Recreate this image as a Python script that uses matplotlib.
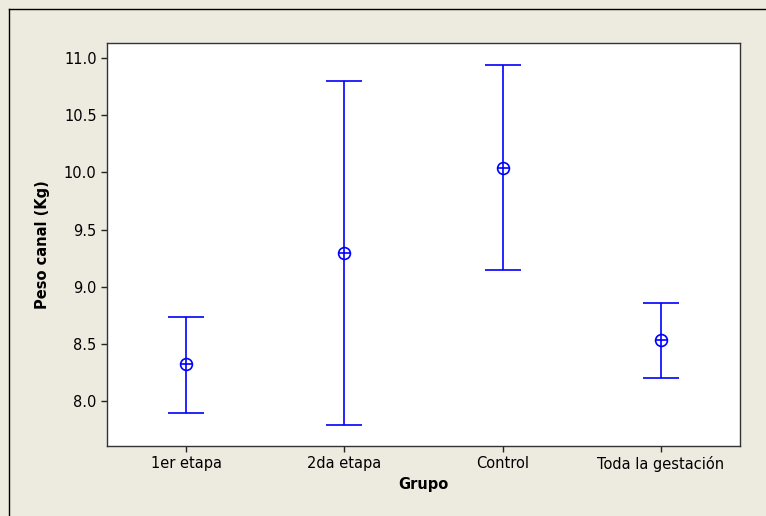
import matplotlib
matplotlib.use("Agg")
import matplotlib.pyplot as plt
from matplotlib.lines import Line2D

grupos = ["1er etapa", "2da etapa", "Control", "Toda la gestación"]
medias = [8.33, 9.30, 10.04, 8.54]
superior = [8.74, 10.80, 10.94, 8.86]
inferior = [7.90, 7.79, 9.15, 8.20]

fondo = "#EDEAE0"
azul = "#0000FF"

plt.rcParams["font.family"] = ["DejaVu Sans"]

fig = plt.figure(figsize=(7.66, 5.16), dpi=100, facecolor=fondo)
ax = fig.add_axes([107 / 766, 1 - 446 / 516, (740 - 107) / 766, (446 - 43) / 516])
ax.set_facecolor("white")

x = list(range(1, len(grupos) + 1))
err_bajo = [m - l for m, l in zip(medias, inferior)]
err_alto = [u - m for m, u in zip(medias, superior)]

ax.errorbar(x, medias, yerr=[err_bajo, err_alto], fmt="none", ecolor=azul,
            elinewidth=1.2, capsize=13, capthick=1.2)
ax.plot(x, medias, linestyle="none", marker="o", markersize=8.5,
        markerfacecolor="white", markeredgecolor=azul, markeredgewidth=1.2)
ax.plot(x, medias, linestyle="none", marker="+", markersize=8.5,
        markeredgecolor=azul, markeredgewidth=1.2)

ax.set_xlim(0.5, 4.5)
ax.set_ylim(7.61, 11.13)
ax.set_xticks(x)
ax.set_xticklabels(grupos)
ax.set_yticks([8.0, 8.5, 9.0, 9.5, 10.0, 10.5, 11.0])
ax.set_yticklabels(["8.0", "8.5", "9.0", "9.5", "10.0", "10.5", "11.0"])
ax.tick_params(direction="out", length=4, width=1, labelsize=10.5, colors="#222222",
               labelcolor="black")
for s in ax.spines.values():
    s.set_color("#333333")
    s.set_linewidth(1)

ax.set_xlabel("Grupo", fontsize=10.5, fontweight="bold", labelpad=3)
ax.set_ylabel("Peso canal (Kg)", fontsize=10.5, fontweight="bold", labelpad=10)

# Marco exterior (solo izquierda y arriba)
fig.add_artist(Line2D([8.5 / 766, 8.5 / 766], [0, 1 - 8.5 / 516], color="black",
                      linewidth=1, transform=fig.transFigure))
fig.add_artist(Line2D([8.5 / 766, 1], [1 - 8.5 / 516, 1 - 8.5 / 516], color="black",
                      linewidth=1, transform=fig.transFigure))

fig.savefig("out.png", dpi=100, facecolor=fondo)
